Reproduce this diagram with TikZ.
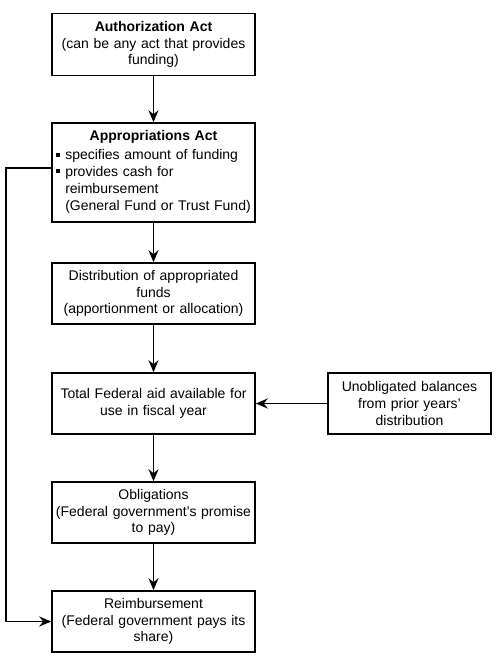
\documentclass[tikz,border=0pt]{standalone}
\usepackage{fontspec}
\setmainfont{Liberation Sans}
\usetikzlibrary{arrows.meta}

\tikzset{
	box/.style={draw, line width=1.5pt, minimum width=203pt, text width=197pt, align=center, inner sep=3pt, font=\fontsize{14}{16.8}\selectfont},
	flow/.style={line width=1.8pt, -{Stealth[length=12pt,width=10pt]}}
}
\newcommand{\sqbullet}{\rule[3pt]{4pt}{4pt}}

\begin{document}
\begin{tikzpicture}[x=1pt, y=-1pt]
	\useasboundingbox (0,0) rectangle (500,658);
		%main column
			\node[box, minimum height=62pt] (auth) at (153.5,44.5) {\textbf{Authorization Act}\\(can be any act that provides\\funding)};
			\node[box, minimum height=99pt] (approp) at (153.5,172.5) {\textbf{Appropriations Act}\\[4pt]
				\begin{tabular}{@{}l@{\hspace{5pt}}l@{}}
					\sqbullet & specifies amount of funding\\
					\sqbullet & provides cash for\\
					& reimbursement\\
					& (General Fund or Trust Fund)
				\end{tabular}};
			\node[box, minimum height=61pt] (distr) at (153.5,293.5) {Distribution of appropriated\\funds\\(apportionment or allocation)};
			\node[box, minimum height=61pt] (total) at (153.5,403.5) {Total Federal aid available for\\use in fiscal year};
			\node[box, minimum height=61pt] (oblig) at (153.5,512.5) {Obligations\\(Federal government's promise\\to pay)};
			\node[box, minimum height=61pt] (reimb) at (153.5,621.5) {Reimbursement\\(Federal government pays its\\share)};
		%side box
			\node[box, minimum width=163pt, text width=157pt, minimum height=61pt] (unob) at (409.5,403.5) {Unobligated balances\\from prior years'\\distribution};
		%arrows down
			\draw[flow] (auth) -- (approp);
			\draw[flow] (approp) -- (distr);
			\draw[flow] (distr) -- (total);
			\draw[flow] (total) -- (oblig);
			\draw[flow] (oblig) -- (reimb);
		%side arrow
			\draw[flow] (unob) -- (total);
		%cash line on the left
			\draw[flow] ([yshift=4.5pt]approp.west) -- ++(-45,0) |- (reimb.west);
\end{tikzpicture}
\end{document}
